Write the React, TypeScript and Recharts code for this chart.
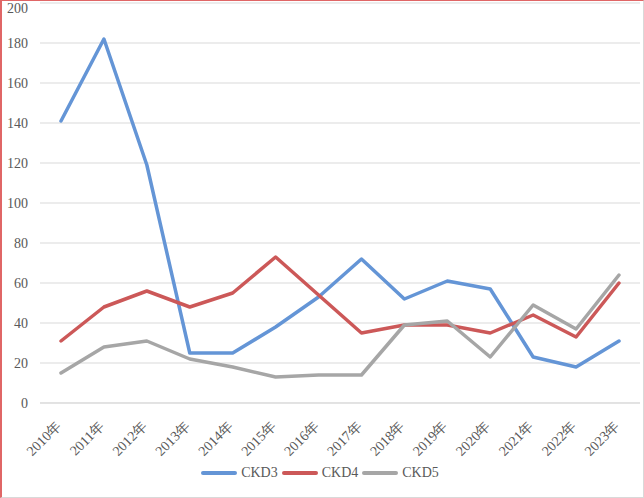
import React from 'react';
import { LineChart, Line, XAxis, YAxis, CartesianGrid, Legend } from 'recharts';

const years = ['2010年','2011年','2012年','2013年','2014年','2015年','2016年','2017年','2018年','2019年','2020年','2021年','2022年','2023年'];
const ckd3 = [141, 182, 119, 25, 25, 38, 53, 72, 52, 61, 57, 23, 18, 31];
const ckd4 = [31, 48, 56, 48, 55, 73, 54, 35, 39, 39, 35, 44, 33, 60];
const ckd5 = [15, 28, 31, 22, 18, 13, 14, 14, 39, 41, 23, 49, 37, 64];
const yTicks = [0, 20, 40, 60, 80, 100, 120, 140, 160, 180, 200];

const seriesNames = ['CKD3', 'CKD4', 'CKD5'];
const colors = ['#6495D6', '#CC5858', '#A6A6A6'];

const data = years.map((y, i) => ({ year: y, CKD3: ckd3[i], CKD4: ckd4[i], CKD5: ckd5[i] }));

const FONT = 'Liberation Serif, Tinos, Times New Roman, DejaVu Serif, serif';

const XTick = (props: any) => {
  const { x, y, payload } = props;
  return (
    <g transform={`translate(${x + 1},${y + 24})`}>
      <text textAnchor="end" transform="rotate(-45)" style={{ fontFamily: FONT }} fontSize={14} fill="#595959">
        {payload.value}
      </text>
    </g>
  );
};

const LegendContent = () => (
  <div style={{ height: 35, display: 'flex', justifyContent: 'center', alignItems: 'flex-start', paddingTop: 1, boxSizing: 'border-box' }}>
    {seriesNames.map((n, i) => (
      <div key={n} style={{ display: 'flex', alignItems: 'center', marginRight: i < 2 ? 4 : 0 }}>
        <div style={{ width: 36, height: 4, background: colors[i], borderRadius: 2, marginRight: 4 }} />
        <span style={{ fontFamily: FONT, fontSize: 14, color: '#595959', lineHeight: '18px' }}>{n}</span>
      </div>
    ))}
  </div>
);

export default function App() {
  return (
    <div style={{ position: 'absolute', left: 0, top: 0, width: 644, height: 498 }}>
      <div style={{ position: 'absolute', left: 0, top: 0, width: 644, height: 498, boxSizing: 'border-box', borderTop: '1px solid #E06666', borderLeft: '2px solid #E06666', borderRight: '1px solid #D9D9D9', borderBottom: '1px solid #D9D9D9' }} />
      <div style={{ position: 'absolute', left: 0, top: 0 }}>
        <LineChart width={644} height={498} data={data} margin={{ top: 3, right: 4, left: 0, bottom: 0 }}>
          <CartesianGrid vertical={false} stroke="#D9D9D9" strokeWidth={1} />
          <XAxis dataKey="year" tick={<XTick />} tickLine={false} axisLine={{ stroke: '#D9D9D9' }} tickSize={0} tickMargin={0} height={60} interval={0} padding={{ left: 21, right: 21 }} />
          <YAxis domain={[0, 200]} ticks={yTicks} width={40} tickLine={false} axisLine={false} tickSize={0} tickMargin={12} tick={{ fontSize: 14, fill: '#595959', style: { fontFamily: FONT } }} />
          <Legend verticalAlign="bottom" content={<LegendContent />} />
          {seriesNames.map((n, i) => (
            <Line key={n} type="linear" dataKey={n} stroke={colors[i]} strokeWidth={3.5} dot={false} isAnimationActive={false} strokeLinejoin="round" strokeLinecap="round" />
          ))}
        </LineChart>
      </div>
    </div>
  );
}
